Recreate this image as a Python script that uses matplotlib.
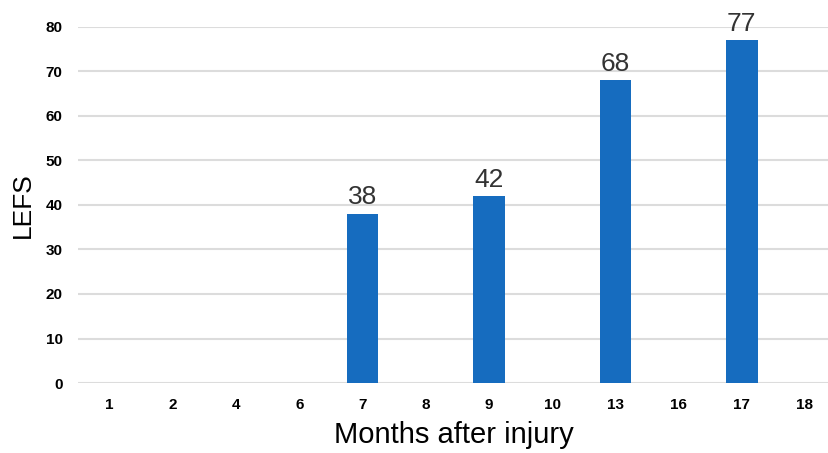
import numpy as np
import matplotlib.pyplot as plt

# data
months = ['1', '2', '4', '6', '7', '8', '9', '10', '13', '16', '17', '18']
lefs = [0, 0, 0, 0, 38, 0, 42, 0, 68, 0, 77, 0]
y_ticks = [0, 10, 20, 30, 40, 50, 60, 70, 80]

plt.rcParams['font.family'] = ['Liberation Sans', 'DejaVu Sans']

fig = plt.figure(figsize=(8.29, 4.53), dpi=100)
ax = fig.add_axes([0.094, 0.1545, 0.906, 0.786])

x = np.arange(len(months))
bars = ax.bar(x, lefs, width=0.5, color='#166cbf', zorder=3)

# value labels only on the non-empty bars
for xi, v in zip(x, lefs):
    if v > 0:
        ax.text(xi, v + 1.0, str(v), ha='center', va='bottom',
                fontsize=19, color='#333333')

ax.set_xlim(-0.5, 11.38)
ax.set_ylim(0, 80)
ax.set_xticks(x)
ax.set_xticklabels(months, fontsize=11, fontweight='bold')
ax.set_yticks(y_ticks)
ax.set_yticklabels([str(t) for t in y_ticks], fontsize=11, fontweight='bold')
ax.tick_params(axis='x', length=0, pad=11)
ax.tick_params(axis='y', length=0, pad=11)

ax.grid(axis='y', color='#dcdcdc', linewidth=1.5, zorder=0)
for s in ax.spines.values():
    s.set_visible(False)

ax.set_xlabel('Months after injury', fontsize=21, labelpad=6)
ax.set_ylabel('LEFS', fontsize=19, labelpad=8)

plt.savefig('out.png', dpi=100)
